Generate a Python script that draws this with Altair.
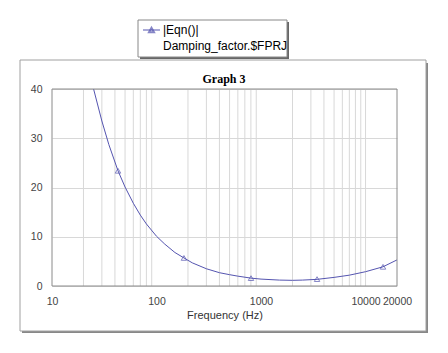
import altair as alt
import pandas as pd

# curve
curve_freq = [25, 30, 35, 42.8, 50, 60, 70, 80, 100, 120, 150, 183, 220, 300, 400,
              500, 600, 800, 1000, 1500, 2000, 2500, 3436, 5000, 7000, 10000, 14700, 20000]
curve_val = [40, 33.5, 28.7, 23.4, 20.1, 16.8, 14.4, 12.6, 10.1, 8.5, 6.8, 5.7, 4.7, 3.5, 2.7,
             2.3, 2.0, 1.6, 1.4, 1.2, 1.15, 1.2, 1.35, 1.75, 2.2, 2.9, 3.9, 5.3]
marker_freq = [42.8, 183, 802, 3436, 14700]
marker_val = [23.4, 5.7, 1.6, 1.4, 3.9]
x_ticks = [10, 100, 1000, 10000, 20000]
x_grid = [20, 30, 40, 50, 60, 70, 80, 90, 200, 300, 400, 500, 600, 700, 800, 900,
          2000, 3000, 4000, 5000, 6000, 7000, 8000, 9000, 10000]
legend_lines = ["|Eqn()|", "Damping_factor.$FPRJ"]

LINE = "#5555b0"
W, H = 345, 197

curve = pd.DataFrame({"f": curve_freq, "v": curve_val})
marks = pd.DataFrame({"f": marker_freq, "v": marker_val})
grid = pd.DataFrame({"f": x_grid})

xs = alt.Scale(type="log", domain=[10, 20000], nice=False)
ys = alt.Scale(domain=[0, 40], nice=False)

xaxis = alt.Axis(values=x_ticks, format="d", grid=False, ticks=False, domain=False,
                 labelFont="Liberation Sans", labelFontSize=10.5, labelColor="#444444",
                 labelPadding=10, title="Frequency (Hz)", titleFont="Liberation Sans",
                 titleFontSize=11, titleFontWeight="normal", titleColor="#333333",
                 titlePadding=3, labelFlush=False, labelOverlap=False)
yaxis = alt.Axis(values=[0, 10, 20, 30, 40], grid=True, gridColor="#d8d8d8", ticks=False,
                 domain=False, labelFont="Liberation Sans", labelFontSize=10.5,
                 labelColor="#444444", labelPadding=10, title=None)

base_line = alt.Chart(curve).mark_line(color=LINE, strokeWidth=1, clip=True).encode(
    x=alt.X("f:Q", scale=xs, axis=xaxis),
    y=alt.Y("v:Q", scale=ys, axis=yaxis),
)
vgrid = alt.Chart(grid).mark_rule(color="#d8d8d8", strokeWidth=1).encode(
    x=alt.X("f:Q", scale=xs)
)
points = alt.Chart(marks).mark_point(shape="triangle-up", size=30, color=LINE,
                                     strokeWidth=1, filled=False).encode(
    x=alt.X("f:Q", scale=xs), y=alt.Y("v:Q", scale=ys)
)

def rect(x, x2, y, y2, **kw):
    return alt.Chart(pd.DataFrame({"a": [0]})).mark_rect(**kw).encode(
        x=alt.value(x), x2=alt.value(x2), y=alt.value(y), y2=alt.value(y2))

# outer frame and shadow (pixel positions relative to plot origin 52,89)
frame_shadow_r = rect(374, 376, -26, 244, color="#888888")
frame_shadow_b = rect(-30, 376, 242, 244, color="#888888")
frame = rect(-32, 374, -29, 242, fillOpacity=0, stroke="#a0a0a0", strokeWidth=1)
plot_border = rect(0, W, 0, H, fillOpacity=0, stroke="#8a8a8a", strokeWidth=1)

# legend
leg_shadow = rect(88, 237, -67, -30, color="#666666")
leg_box = rect(86, 235, -69, -32, fill="white", stroke="#888888", strokeWidth=1)
leg_line = alt.Chart(pd.DataFrame({"a": [0]})).mark_rule(color=LINE).encode(
    x=alt.value(91), x2=alt.value(108), y=alt.value(-59))
leg_pt = alt.Chart(pd.DataFrame({"a": [0]})).mark_point(
    shape="triangle-up", size=25, color=LINE, filled=False).encode(
    x=alt.value(99.5), y=alt.value(-59))

leg_text1 = alt.Chart(pd.DataFrame({"t": [legend_lines[0]]})).mark_text(
    align="left", baseline="middle", font="Liberation Sans", fontSize=12, color="black"
).encode(x=alt.value(111), y=alt.value(-59), text="t:N")
leg_text2 = alt.Chart(pd.DataFrame({"t": [legend_lines[1]]})).mark_text(
    align="left", baseline="middle", font="Liberation Sans", fontSize=12, color="black"
).encode(x=alt.value(111), y=alt.value(-43), text="t:N")

title = alt.Chart(pd.DataFrame({"t": ["Graph 3"]})).mark_text(
    align="center", baseline="middle", font="Liberation Serif", fontSize=12,
    fontWeight="bold", color="black").encode(x=alt.value(172), y=alt.value(-10), text="t:N")

chart = alt.layer(
    frame_shadow_r, frame_shadow_b, frame, vgrid, base_line, points, plot_border,
    leg_shadow, leg_box, leg_line, leg_pt, leg_text1, leg_text2, title
).properties(
    width=W, height=H,
    padding={"left": 52, "top": 89, "right": 51, "bottom": 67},
    autosize=alt.AutoSizeParams(type="none"),
    background="white",
).configure_view(stroke=None)

chart.save("out.html", embed_options={"renderer": "svg", "actions": False})
